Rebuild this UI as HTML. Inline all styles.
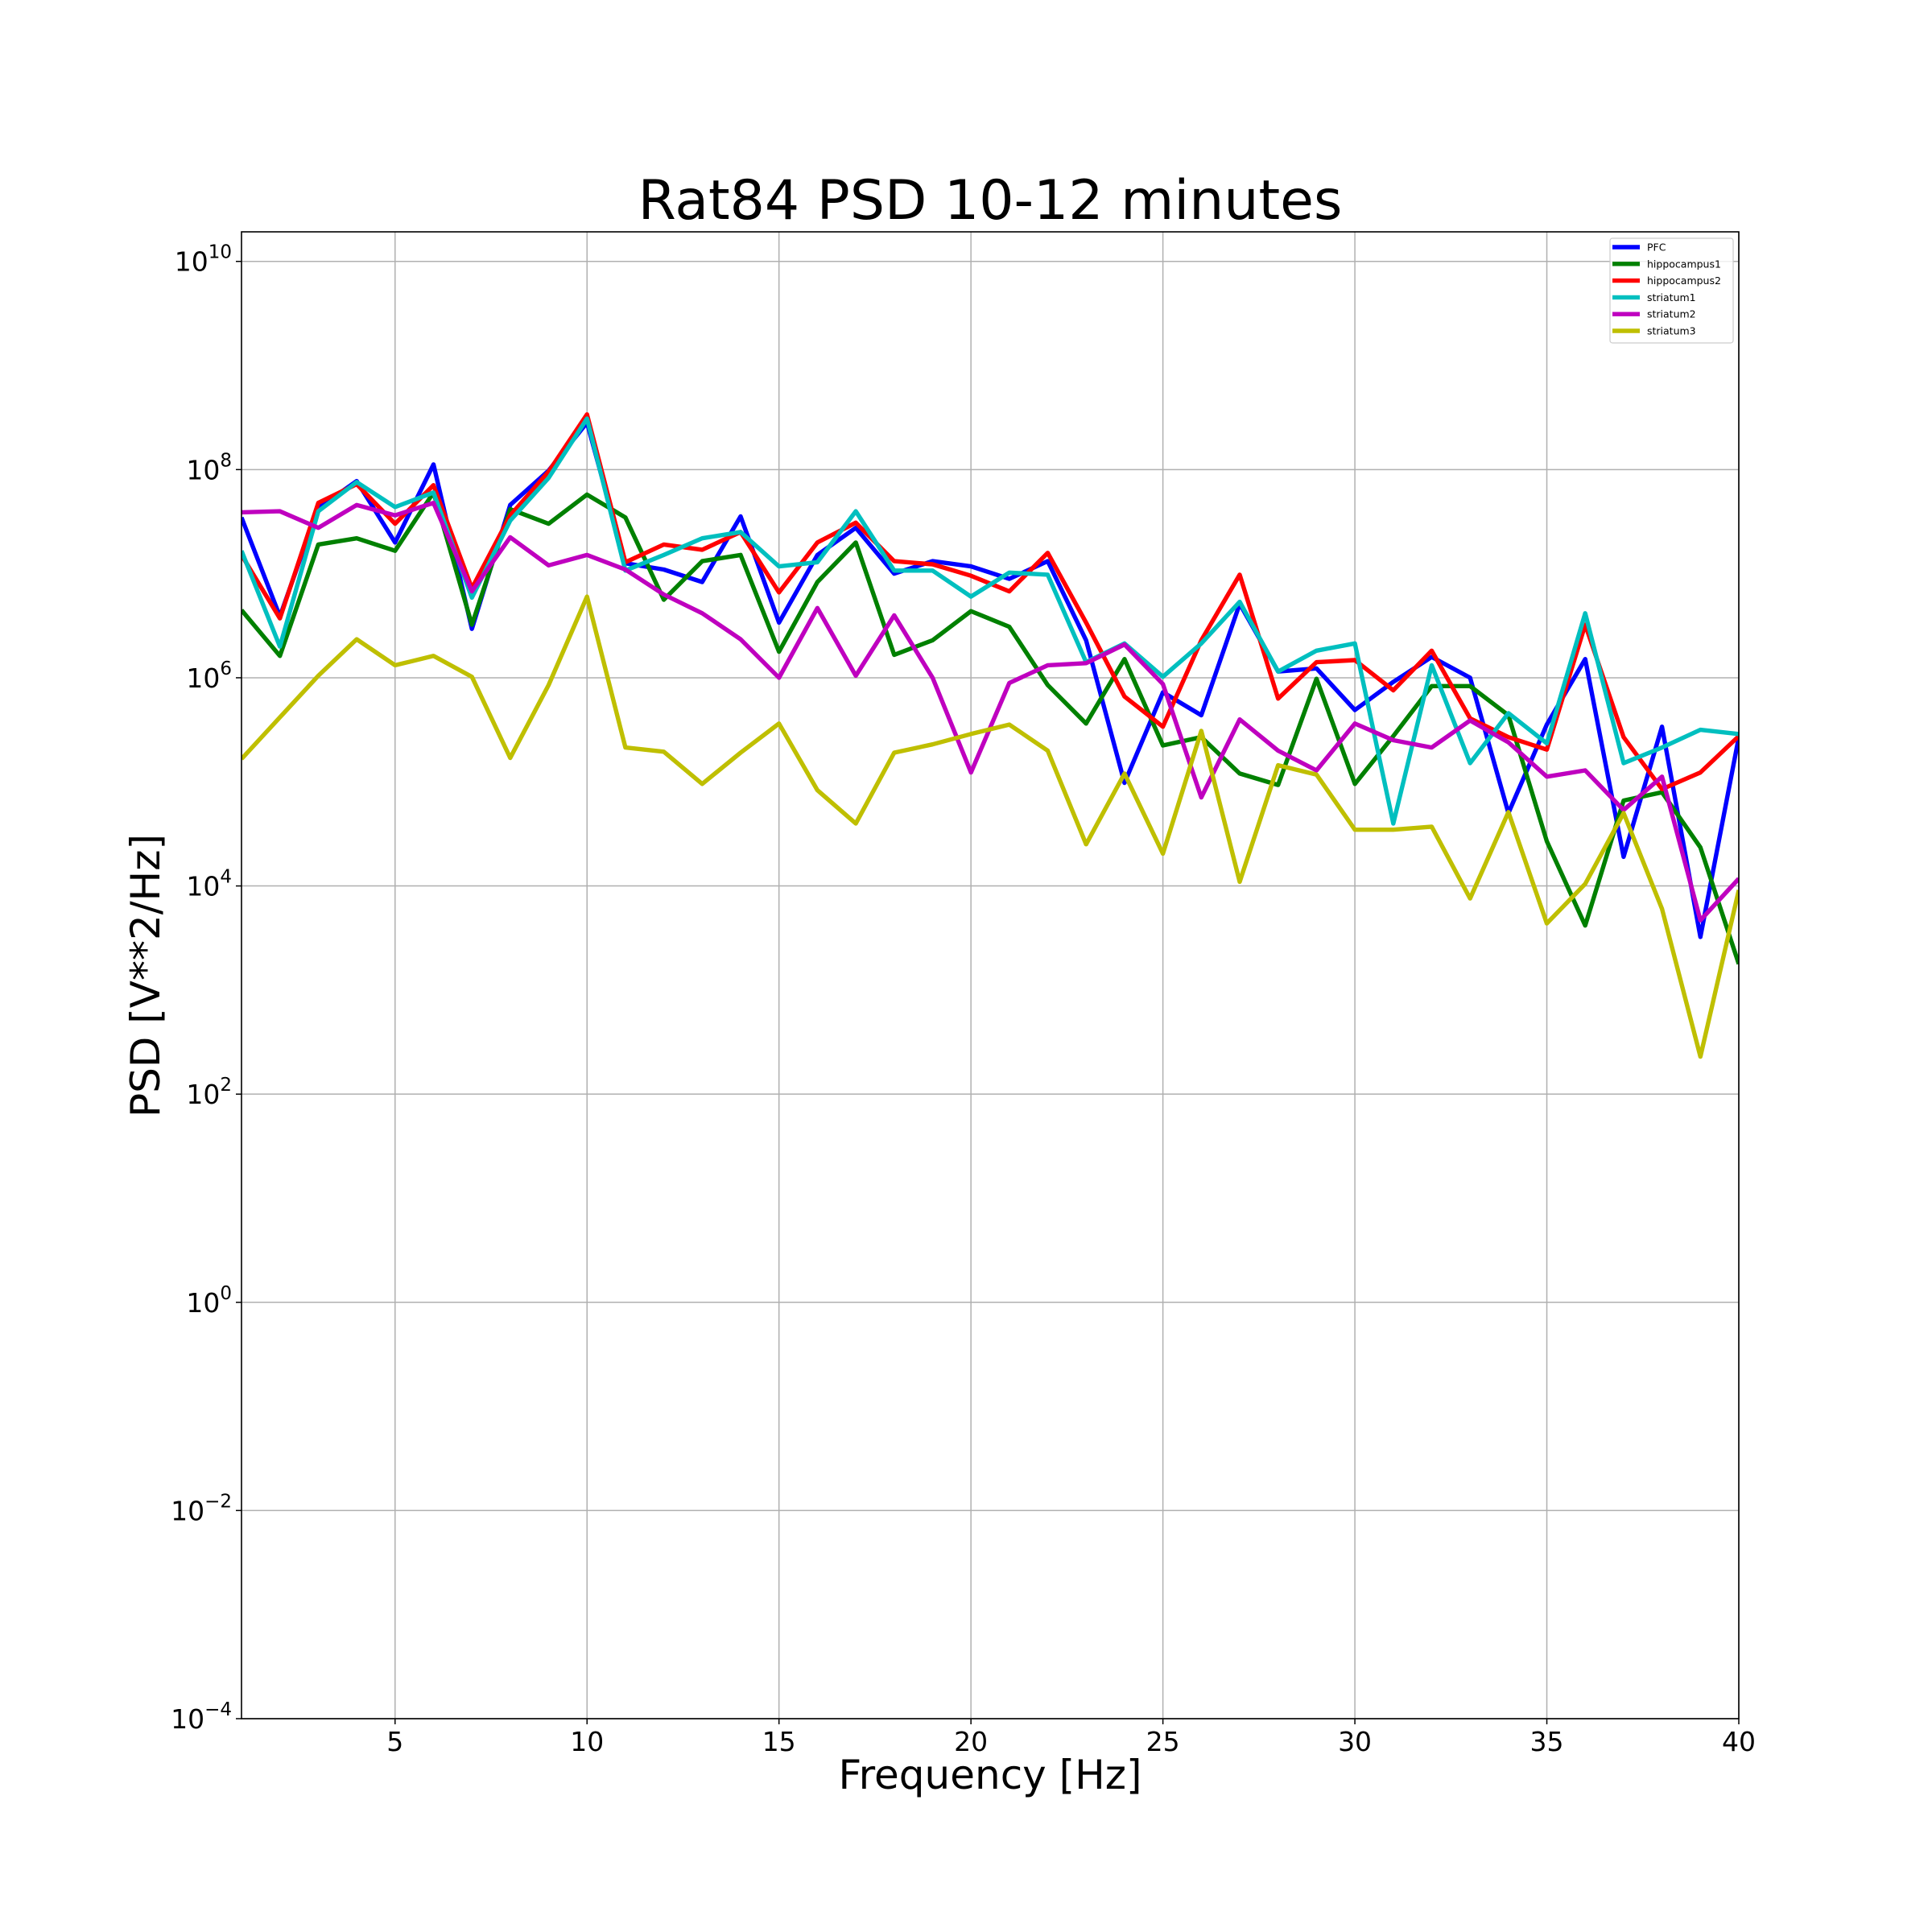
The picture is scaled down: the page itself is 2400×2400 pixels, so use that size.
<!DOCTYPE html>
<html><head><meta charset="utf-8"><style>
html,body{margin:0;padding:0;background:#fff;}
svg{display:block;font-family:"DejaVu Sans","Liberation Sans",sans-serif;}
</style></head><body>
<svg id="chart" width="2400" height="2400" viewBox="0 0 2400 2400" xmlns="http://www.w3.org/2000/svg">
<rect width="2400" height="2400" fill="#fff"/>
<text x="1230" y="272" font-size="68" text-anchor="middle">Rat84 PSD 10-12 minutes</text>
<text x="1230" y="2222" font-size="50" text-anchor="middle">Frequency [Hz]</text>
<text x="198" y="1212" font-size="50" text-anchor="middle" transform="rotate(-90 198 1212)">PSD [V**2/Hz]</text>
<g id="grid"></g>
<g id="series"></g>
<rect x="300" y="288" width="1860" height="1847" fill="none" stroke="#000" stroke-width="1.6"/>
<g id="ticks"></g>
<g id="legend"></g>
</svg>
<script>
const freqs = [1,2,3,4,5,6,7,8,9,10,11,12,13,14,15,16,17,18,19,20,21,22,23,24,25,26,27,28,29,30,31,32,33,34,35,36,37,38,39,40];
const seriesNames = ["PFC","hippocampus1","hippocampus2","striatum1","striatum2","striatum3"];
const seriesColors = ["#0000ff","#008000","#ff0000","#00bfbf","#bf00bf","#bfbf00"];
// log10 of PSD values
const pfc = [7.54,6.59,7.63,7.89,7.30,8.05,6.47,7.66,7.99,8.45,7.10,7.04,6.92,7.55,6.53,7.18,7.44,7.00,7.12,7.07,6.95,7.12,6.36,4.99,5.86,5.64,6.71,6.06,6.09,5.69,5.96,6.20,6.00,4.70,5.55,6.18,4.28,5.53,3.51,5.43];
const hippocampus1 = [6.65,6.21,7.28,7.34,7.22,7.78,6.51,7.62,7.48,7.76,7.54,6.75,7.12,7.18,6.25,6.92,7.30,6.22,6.36,6.64,6.49,5.93,5.56,6.18,5.35,5.43,5.08,4.97,5.99,4.98,5.44,5.92,5.92,5.64,4.43,3.62,4.82,4.90,4.37,3.25];
const hippocampus2 = [7.18,6.57,7.68,7.86,7.48,7.85,6.86,7.56,7.98,8.53,7.11,7.28,7.23,7.40,6.82,7.30,7.49,7.12,7.09,6.98,6.83,7.20,6.53,5.82,5.53,6.36,6.99,5.80,6.15,6.17,5.88,6.26,5.61,5.43,5.31,6.51,5.43,4.93,5.09,5.44];
const striatum1 = [7.22,6.30,7.60,7.88,7.64,7.78,6.77,7.51,7.92,8.49,7.03,7.18,7.34,7.40,7.07,7.11,7.60,7.03,7.03,6.78,7.01,6.99,6.15,6.33,6.01,6.33,6.73,6.06,6.26,6.33,4.60,6.12,5.18,5.66,5.37,6.62,5.18,5.33,5.50,5.46];
const striatum2 = [7.59,7.60,7.44,7.66,7.56,7.68,6.83,7.35,7.08,7.18,7.04,6.80,6.62,6.37,6.00,6.67,6.02,6.60,6.00,5.09,5.95,6.12,6.14,6.32,5.94,4.85,5.60,5.30,5.11,5.56,5.40,5.33,5.59,5.38,5.05,5.11,4.73,5.05,3.67,4.07];
const striatum3 = [5.22,5.62,6.02,6.37,6.12,6.21,6.01,5.23,5.93,6.78,5.33,5.29,4.98,5.28,5.56,4.92,4.60,5.28,5.36,5.46,5.55,5.30,4.40,5.08,4.31,5.49,4.04,5.16,5.07,4.54,4.54,4.57,3.88,4.71,3.64,4.02,4.70,3.78,2.36,3.96];
const xTicks = [5,10,15,20,25,30,35,40];
const yTickExps = [-4,-2,0,2,4,6,8,10];

const allSeries = [pfc,hippocampus1,hippocampus2,striatum1,striatum2,striatum3];
const L=300,R=2160,T=288,B=2135;
const xMin=1,xMax=40;
const yTop=10+24/84.5, yBot=-4;
function xs(f){return L+(f-xMin)/(xMax-xMin)*(R-L);}
function ys(lg){return T+(yTop-lg)/(yTop-yBot)*(B-T);}
const NS="http://www.w3.org/2000/svg";
function mk(tag,attrs,parent){const e=document.createElementNS(NS,tag);for(const k in attrs)e.setAttribute(k,attrs[k]);parent.appendChild(e);return e;}
const grid=document.getElementById('grid'),ticks=document.getElementById('ticks');
xTicks.forEach(v=>{
  const x=xs(v);
  const g=mk('line',{x1:x,x2:x,y1:T,y2:B,stroke:'#b0b0b0','stroke-width':1.5},grid);
  
  
  const t=mk('line',{x1:x,x2:x,y1:B,y2:B+7,stroke:'#000','stroke-width':1.5},ticks);
  
  
  const lb=mk('text',{x:x,y:B+40,'font-size':33,'text-anchor':'middle'},ticks);
  lb.textContent=v;
  
  
});
yTickExps.forEach(v=>{
  const y=ys(v);
  const g=mk('line',{x1:L,x2:R,y1:y,y2:y,stroke:'#b0b0b0','stroke-width':1.5},grid);
  
  
  const t=mk('line',{x1:L-7,x2:L,y1:y,y2:y,stroke:'#000','stroke-width':1.5},ticks);
  
  
  const lb=mk('text',{x:L-12,y:y+12,'font-size':33,'text-anchor':'end'},ticks);
  
  
  const b=mk('tspan',{},lb);b.textContent='10';
  const s=mk('tspan',{'font-size':23,dy:-16},lb);s.textContent=(v<0?'\u2212'+(-v):v);
});
const sg=document.getElementById('series');
mk('clipPath',{id:'clip'},sg).appendChild(Object.assign(document.createElementNS(NS,'rect'),{}));
sg.lastChild.firstChild.setAttribute('x',L);sg.lastChild.firstChild.setAttribute('y',T);
sg.lastChild.firstChild.setAttribute('width',R-L);sg.lastChild.firstChild.setAttribute('height',B-T);
allSeries.forEach((arr,i)=>{
  const d=arr.map((v,j)=>(j?'L':'M')+xs(freqs[j]).toFixed(1)+','+ys(v).toFixed(1)).join(' ');
  const p=mk('path',{d:d,fill:'none',stroke:seriesColors[i],'stroke-width':5.4,'stroke-linejoin':'round','clip-path':'url(#clip)'},sg);
  
  
});
const lg=document.getElementById('legend');
const box=mk('rect',{x:2000,y:296,width:153,height:130,rx:3,fill:'#fff','fill-opacity':0.8,stroke:'#ccc','stroke-width':1.2},lg);


seriesNames.forEach((n,i)=>{
  const y=307+i*20.8;
  const ln=mk('line',{x1:2003,x2:2037,y1:y,y2:y,stroke:seriesColors[i],'stroke-width':5.4},lg);
  
  
  const t=mk('text',{x:2046,y:y+4.5,'font-size':12.5},lg);
  t.textContent=n;
  
  
});
</script>
</body></html>
